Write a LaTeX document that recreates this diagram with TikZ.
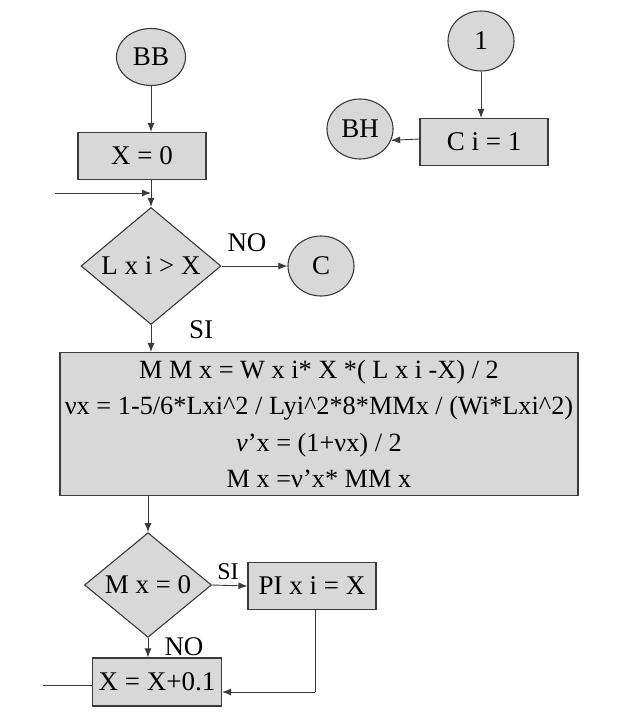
\documentclass[tikz,border=0pt]{standalone}
\usepackage{fontspec}
\setmainfont{Liberation Serif}
\usetikzlibrary{shapes.geometric,arrows.meta}
\definecolor{fillc}{HTML}{D8D8D8}
\definecolor{linec}{HTML}{3A3A3A}
\begin{document}
\begin{tikzpicture}[x=1pt,y=-1pt,
  every node/.style={font=\fontsize{27}{36}\selectfont, text=black},
  box/.style={rectangle, draw=linec, fill=fillc, line width=1.1pt, minimum width=128pt, minimum height=47pt, inner sep=0pt},
  term/.style={ellipse, draw=linec, fill=fillc, line width=1.1pt, minimum width=66pt, minimum height=60pt, inner sep=0pt},
  dec/.style={diamond, draw=linec, fill=fillc, line width=1.1pt, inner sep=0pt},
  arr/.style={draw=linec, line width=0.9pt, -{Latex[length=9pt,width=7pt]}},
  ln/.style={draw=linec, line width=0.9pt},
  lab/.style={inner sep=0pt}]
\useasboundingbox (0,0) rectangle (630,719);
% nodes
\node[term, minimum width=69pt, minimum height=57pt] (BB) at (151,57) {BB};
\node[box] (X0) at (142,156) {X = 0};
\node[dec, minimum width=140pt, minimum height=107pt] (D1) at (151,266) {L x i > X};
\node[term] (C) at (321,266) {C};
\node[term] (one) at (481,41) {1};
\node[box] (Ci) at (484,142) {C i = 1};
\node[term] (BH) at (360,129) {BH};
\node[box, minimum width=518pt, minimum height=143pt, align=center, font=\fontsize{26.3}{36.5}\selectfont] (big) at (319,424)
  {M M x = W x i* X *( L x i -X) / 2\\
   νx = 1-5/6*Lxi\^{}2 / Lyi\^{}2*8*MMx / (Wi*Lxi\^{}2)\\
   \textit{ν}’x = (1+νx) / 2\\
   M x =ν’x* MM x};
\node[dec, minimum width=127pt, minimum height=81pt] (D2) at (148,585) {M x = 0};
\node[box] (PI) at (312,586) {PI x i = X};
\node[box, minimum width=129pt, minimum height=48pt] (X1) at (157,682) {X = X+0.1};
% labels
\node[lab] (no1) at (247,243) {NO};
\node[lab] (si1) at (201,330) {SI};
\node[lab, font=\fontsize{24}{28}\selectfont] (si2) at (228,572) {SI};
\node[lab] (no2) at (184,647) {NO};
% coordinates
\coordinate (in1) at (55,193);
\coordinate (j1) at (151,193);
\coordinate (out1) at (43,685);
\coordinate (turn) at (315,692);
% connectors
\draw[arr] (BB.south) -- (BB.south |- X0.north);
\draw[arr] (in1) -- (j1);
\draw[arr] (j1 |- X0.south) -- (D1.north);
\draw[arr] (D1.east) -- (C.west);
\draw[arr] (D1.south) -- (D1.south |- big.north);
\draw[arr] (D2.north |- big.south) -- (D2.north);
\draw[arr] (D2.east) -- (PI.west);
\draw[arr] (D2.south) -- (D2.south |- X1.north);
\draw[ln] (turn |- PI.south) -- (turn);
\draw[arr] (turn) -- (turn -| X1.east);
\draw[ln] (out1) -- (out1 -| X1.west);
\draw[arr] (one.south) -- (one.south |- Ci.north);
\draw[arr] ([yshift=3pt]Ci.west) -- (BH.-20);
\end{tikzpicture}
\end{document}
